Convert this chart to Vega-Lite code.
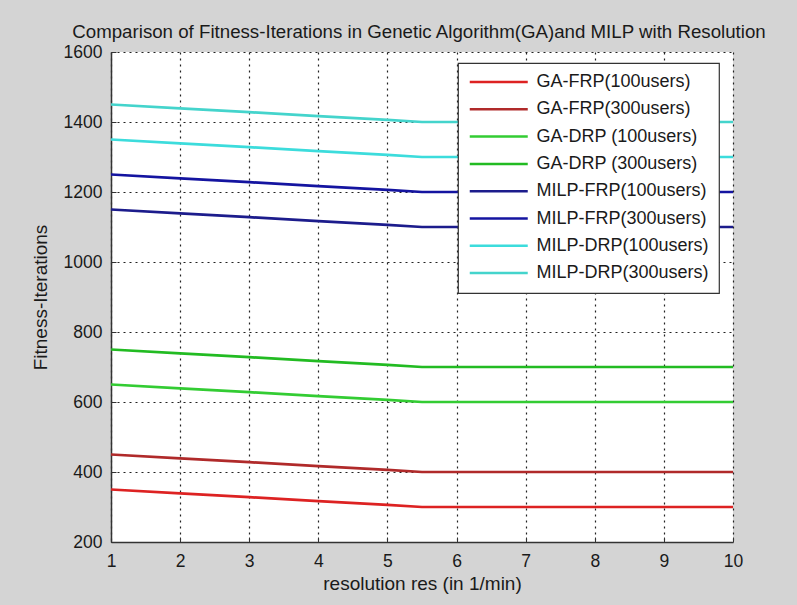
{
  "$schema": "https://vega.github.io/schema/vega-lite/v6.json",
  "width": 622,
  "height": 490,
  "autosize": {"type": "none"},
  "padding": {"left": 111, "top": 52, "right": 64, "bottom": 63},
  "background": "#d4d4d4",
  "title": {
    "text": "Comparison of Fitness-Iterations in Genetic Algorithm(GA)and MILP with Resolution",
    "font": "Liberation Sans",
    "fontSize": 18.7,
    "fontWeight": "normal",
    "color": "#1a1a1a",
    "anchor": "middle",
    "dx": -3,
    "offset": 1
  },
  "config": {
    "view": {"stroke": null, "fill": "white"},
    "axis": {
      "labelFont": "Liberation Sans",
      "labelFontSize": 17.5,
      "labelColor": "#1a1a1a",
      "titleFont": "Liberation Sans",
      "titleFontSize": 19,
      "titleFontWeight": "normal",
      "titleColor": "#1a1a1a",
      "domainColor": "#333333",
      "domainWidth": 1.5,
      "tickColor": "#333333",
      "tickSize": -5,
      "grid": true,
      "gridColor": "#222222",
      "gridDash": [2, 4],
      "gridWidth": 1.2,
      "gridOpacity": 1
    },
    "legend": {
      "orient": "none",
      "legendX": 347,
      "legendY": 11,
      "fillColor": "white",
      "strokeColor": "#333333",
      "strokeWidth": 1.2,
      "padding": 10,
      "symbolType": "M-1,0H7",
      "symbolSize": 210.25,
      "symbolStrokeWidth": 2.5,
      "labelFont": "Liberation Sans",
      "labelFontSize": 18,
      "labelColor": "#1a1a1a",
      "labelOffset": 50.5,
      "labelLimit": 400,
      "rowPadding": 9.3,
      "title": null
    }
  },
  "data": {
    "values": [
      {"x": 1, "s": "GA-FRP(100users)", "v": 350}, {"x": 2, "s": "GA-FRP(100users)", "v": 339}, {"x": 3, "s": "GA-FRP(100users)", "v": 328}, {"x": 4, "s": "GA-FRP(100users)", "v": 317}, {"x": 5, "s": "GA-FRP(100users)", "v": 306}, {"x": 5.5, "s": "GA-FRP(100users)", "v": 300}, {"x": 6, "s": "GA-FRP(100users)", "v": 300}, {"x": 7, "s": "GA-FRP(100users)", "v": 300}, {"x": 8, "s": "GA-FRP(100users)", "v": 300}, {"x": 9, "s": "GA-FRP(100users)", "v": 300}, {"x": 10, "s": "GA-FRP(100users)", "v": 300},
      {"x": 1, "s": "GA-FRP(300users)", "v": 450}, {"x": 2, "s": "GA-FRP(300users)", "v": 439}, {"x": 3, "s": "GA-FRP(300users)", "v": 428}, {"x": 4, "s": "GA-FRP(300users)", "v": 417}, {"x": 5, "s": "GA-FRP(300users)", "v": 406}, {"x": 5.5, "s": "GA-FRP(300users)", "v": 400}, {"x": 6, "s": "GA-FRP(300users)", "v": 400}, {"x": 7, "s": "GA-FRP(300users)", "v": 400}, {"x": 8, "s": "GA-FRP(300users)", "v": 400}, {"x": 9, "s": "GA-FRP(300users)", "v": 400}, {"x": 10, "s": "GA-FRP(300users)", "v": 400},
      {"x": 1, "s": "GA-DRP (100users)", "v": 650}, {"x": 2, "s": "GA-DRP (100users)", "v": 639}, {"x": 3, "s": "GA-DRP (100users)", "v": 628}, {"x": 4, "s": "GA-DRP (100users)", "v": 617}, {"x": 5, "s": "GA-DRP (100users)", "v": 606}, {"x": 5.5, "s": "GA-DRP (100users)", "v": 600}, {"x": 6, "s": "GA-DRP (100users)", "v": 600}, {"x": 7, "s": "GA-DRP (100users)", "v": 600}, {"x": 8, "s": "GA-DRP (100users)", "v": 600}, {"x": 9, "s": "GA-DRP (100users)", "v": 600}, {"x": 10, "s": "GA-DRP (100users)", "v": 600},
      {"x": 1, "s": "GA-DRP (300users)", "v": 750}, {"x": 2, "s": "GA-DRP (300users)", "v": 739}, {"x": 3, "s": "GA-DRP (300users)", "v": 728}, {"x": 4, "s": "GA-DRP (300users)", "v": 717}, {"x": 5, "s": "GA-DRP (300users)", "v": 706}, {"x": 5.5, "s": "GA-DRP (300users)", "v": 700}, {"x": 6, "s": "GA-DRP (300users)", "v": 700}, {"x": 7, "s": "GA-DRP (300users)", "v": 700}, {"x": 8, "s": "GA-DRP (300users)", "v": 700}, {"x": 9, "s": "GA-DRP (300users)", "v": 700}, {"x": 10, "s": "GA-DRP (300users)", "v": 700},
      {"x": 1, "s": "MILP-FRP(100users)", "v": 1150}, {"x": 2, "s": "MILP-FRP(100users)", "v": 1139}, {"x": 3, "s": "MILP-FRP(100users)", "v": 1128}, {"x": 4, "s": "MILP-FRP(100users)", "v": 1117}, {"x": 5, "s": "MILP-FRP(100users)", "v": 1106}, {"x": 5.5, "s": "MILP-FRP(100users)", "v": 1100}, {"x": 6, "s": "MILP-FRP(100users)", "v": 1100}, {"x": 7, "s": "MILP-FRP(100users)", "v": 1100}, {"x": 8, "s": "MILP-FRP(100users)", "v": 1100}, {"x": 9, "s": "MILP-FRP(100users)", "v": 1100}, {"x": 10, "s": "MILP-FRP(100users)", "v": 1100},
      {"x": 1, "s": "MILP-FRP(300users)", "v": 1250}, {"x": 2, "s": "MILP-FRP(300users)", "v": 1239}, {"x": 3, "s": "MILP-FRP(300users)", "v": 1228}, {"x": 4, "s": "MILP-FRP(300users)", "v": 1217}, {"x": 5, "s": "MILP-FRP(300users)", "v": 1206}, {"x": 5.5, "s": "MILP-FRP(300users)", "v": 1200}, {"x": 6, "s": "MILP-FRP(300users)", "v": 1200}, {"x": 7, "s": "MILP-FRP(300users)", "v": 1200}, {"x": 8, "s": "MILP-FRP(300users)", "v": 1200}, {"x": 9, "s": "MILP-FRP(300users)", "v": 1200}, {"x": 10, "s": "MILP-FRP(300users)", "v": 1200},
      {"x": 1, "s": "MILP-DRP(100users)", "v": 1350}, {"x": 2, "s": "MILP-DRP(100users)", "v": 1339}, {"x": 3, "s": "MILP-DRP(100users)", "v": 1328}, {"x": 4, "s": "MILP-DRP(100users)", "v": 1317}, {"x": 5, "s": "MILP-DRP(100users)", "v": 1306}, {"x": 5.5, "s": "MILP-DRP(100users)", "v": 1300}, {"x": 6, "s": "MILP-DRP(100users)", "v": 1300}, {"x": 7, "s": "MILP-DRP(100users)", "v": 1300}, {"x": 8, "s": "MILP-DRP(100users)", "v": 1300}, {"x": 9, "s": "MILP-DRP(100users)", "v": 1300}, {"x": 10, "s": "MILP-DRP(100users)", "v": 1300},
      {"x": 1, "s": "MILP-DRP(300users)", "v": 1450}, {"x": 2, "s": "MILP-DRP(300users)", "v": 1439}, {"x": 3, "s": "MILP-DRP(300users)", "v": 1428}, {"x": 4, "s": "MILP-DRP(300users)", "v": 1417}, {"x": 5, "s": "MILP-DRP(300users)", "v": 1406}, {"x": 5.5, "s": "MILP-DRP(300users)", "v": 1400}, {"x": 6, "s": "MILP-DRP(300users)", "v": 1400}, {"x": 7, "s": "MILP-DRP(300users)", "v": 1400}, {"x": 8, "s": "MILP-DRP(300users)", "v": 1400}, {"x": 9, "s": "MILP-DRP(300users)", "v": 1400}, {"x": 10, "s": "MILP-DRP(300users)", "v": 1400}
    ]
  },
  "mark": {"type": "line", "strokeWidth": 2.7, "clip": true},
  "encoding": {
    "x": {
      "field": "x",
      "type": "quantitative",
      "scale": {"domain": [1, 10], "nice": false, "zero": false},
      "axis": {"values": [1, 2, 3, 4, 5, 6, 7, 8, 9, 10], "format": "d", "title": "resolution res (in 1/min)", "labelPadding": 15, "titlePadding": 5, "labelFlush": false}
    },
    "y": {
      "field": "v",
      "type": "quantitative",
      "scale": {"domain": [200, 1600], "nice": false, "zero": false},
      "axis": {"values": [200, 400, 600, 800, 1000, 1200, 1400, 1600], "format": "d", "title": "Fitness-Iterations", "labelPadding": 14, "titlePadding": 13}
    },
    "color": {
      "field": "s",
      "type": "nominal",
      "sort": ["GA-FRP(100users)", "GA-FRP(300users)", "GA-DRP (100users)", "GA-DRP (300users)", "MILP-FRP(100users)", "MILP-FRP(300users)", "MILP-DRP(100users)", "MILP-DRP(300users)"],
      "scale": {
        "domain": ["GA-FRP(100users)", "GA-FRP(300users)", "GA-DRP (100users)", "GA-DRP (300users)", "MILP-FRP(100users)", "MILP-FRP(300users)", "MILP-DRP(100users)", "MILP-DRP(300users)"],
        "range": ["#dd2222", "#b02a2a", "#33cc33", "#22bb22", "#1c1c8c", "#1414a0", "#3cdcdc", "#44d4cc"]
      }
    }
  }
}
